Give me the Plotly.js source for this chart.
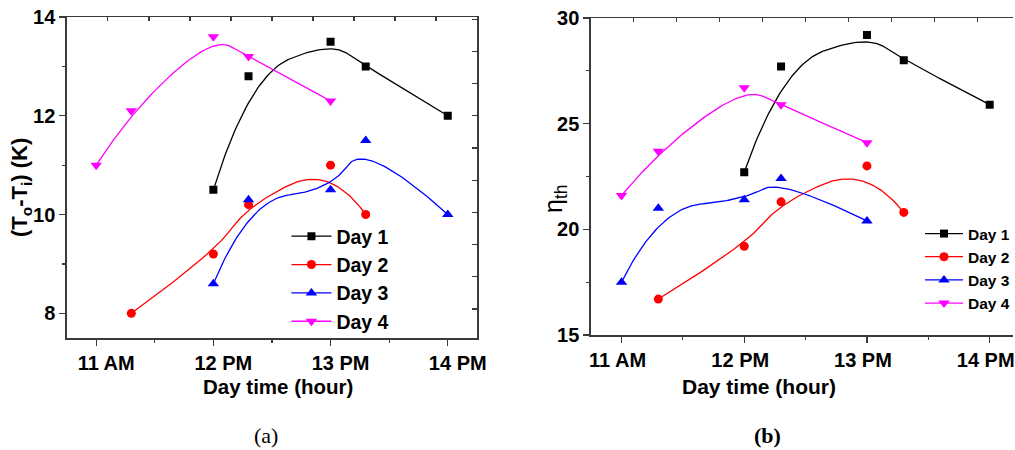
<!DOCTYPE html>
<html><head><meta charset="utf-8">
<script src="https://cdn.plot.ly/plotly-3.0.1.min.js"></script>
<style>html,body{margin:0;padding:0;background:#fff}</style>
</head><body><div id="chart" style="width:1015px;height:450px"></div>
<script>
// ---------- data ----------
const hourTicks = [11, 12, 13, 14];
const hourLabels = ['11 AM', '12 PM', '13 PM', '14 PM'];
const seriesNames = ['Day 1', 'Day 2', 'Day 3', 'Day 4'];

// (a) outlet-inlet temperature difference (K)
const a_day1_x = [12, 12.3, 13, 13.3, 14];
const a_day1_y = [10.5, 12.8, 13.5, 13.0, 12.0];
const a_day2_x = [11.3, 12, 12.3, 13, 13.3];
const a_day2_y = [8.0, 9.2, 10.2, 11.0, 10.0];
const a_day3_x = [12, 12.3, 13, 13.3, 14];
const a_day3_y = [8.6, 10.3, 10.5, 11.5, 10.0];
const a_day4_x = [11, 11.3, 12, 12.3, 13];
const a_day4_y = [11.0, 12.1, 13.6, 13.2, 12.3];

// (b) thermal efficiency
const b_day1_x = [12, 12.3, 13, 13.3, 14];
const b_day1_y = [22.7, 27.7, 29.2, 28.0, 25.9];
const b_day2_x = [11.3, 12, 12.3, 13, 13.3];
const b_day2_y = [16.7, 19.2, 21.3, 23.0, 20.8];
const b_day3_x = [11, 11.3, 12, 12.3, 13];
const b_day3_y = [17.5, 21.0, 21.4, 22.4, 20.4];
const b_day4_x = [11, 11.3, 12, 12.3, 13];
const b_day4_y = [21.6, 23.7, 26.7, 25.9, 24.1];

// ---------- styles ----------
const colors = ['#000000', '#ff0000', '#0000ff', '#ff00ff'];
const symbols = ['square', 'circle', 'triangle-up', 'triangle-down'];
const msizes = [8, 9, 10, 10];
const axCol = '#3a3a3a';
const FONT = 'Liberation Sans, Arial, sans-serif';

// clamped quadratic B-spline smoothing drawn from the data points (as in the original plot)
function bspline(xs, ys, steps) {
  const n = xs.length, ox = [], oy = [];
  for (let i = 0; i <= n - 3; i++) {
    const sx = i === 0 ? xs[0] : (xs[i] + xs[i + 1]) / 2;
    const sy = i === 0 ? ys[0] : (ys[i] + ys[i + 1]) / 2;
    const cx = xs[i + 1], cy = ys[i + 1];
    const ex = i === n - 3 ? xs[n - 1] : (xs[i + 1] + xs[i + 2]) / 2;
    const ey = i === n - 3 ? ys[n - 1] : (ys[i + 1] + ys[i + 2]) / 2;
    for (let k = (i === 0 ? 0 : 1); k <= steps; k++) {
      const s = k / steps, a = (1 - s) * (1 - s), b = 2 * s * (1 - s), c = s * s;
      ox.push(a * sx + b * cx + c * ex);
      oy.push(a * sy + b * cy + c * ey);
    }
  }
  return [ox, oy];
}

const panelA = [[a_day1_x, a_day1_y], [a_day2_x, a_day2_y], [a_day3_x, a_day3_y], [a_day4_x, a_day4_y]];
const panelB = [[b_day1_x, b_day1_y], [b_day2_x, b_day2_y], [b_day3_x, b_day3_y], [b_day4_x, b_day4_y]];

const traces = [];
function addPanel(panel, xa, ya, leg) {
  panel.forEach((s, i) => {
    const [fx, fy] = bspline(s[0], s[1], 40);
    traces.push({x: fx, y: fy, xaxis: xa, yaxis: ya, mode: 'lines', showlegend: false,
      line: {color: colors[i], width: 1.3}, hoverinfo: 'skip'});
    traces.push({x: s[0], y: s[1], xaxis: xa, yaxis: ya, mode: 'markers', showlegend: false,
      marker: {color: colors[i], symbol: symbols[i], size: msizes[i]}});
    traces.push({x: [null], y: [null], xaxis: xa, yaxis: ya, mode: 'lines+markers', name: seriesNames[i],
      legend: leg, line: {color: colors[i], width: 1.3},
      marker: {color: colors[i], symbol: symbols[i], size: msizes[i]}});
  });
}
addPanel(panelA, 'x', 'y', 'legend');
addPanel(panelB, 'x2', 'y2', 'legend2');
// empty traces so the frame (top / right) axes are drawn
traces.push({x: [null], y: [null], xaxis: 'x3', yaxis: 'y', showlegend: false});
traces.push({x: [null], y: [null], xaxis: 'x', yaxis: 'y3', showlegend: false});
traces.push({x: [null], y: [null], xaxis: 'x4', yaxis: 'y2', showlegend: false});

const W = 1015, H = 450;
const px = v => v / W, py = v => 1 - v / H;

function xBottom(dom, rng, fs, anchor, shift) {
  return {domain: dom, range: rng, anchor: anchor, tickmode: 'array', tickvals: hourTicks, ticktext: hourLabels,
    ticks: 'outside', ticklen: 6, tickwidth: 1.3, tickcolor: axCol, showline: true, linecolor: axCol, linewidth: 1.5,
    showgrid: false, zeroline: false, fixedrange: true, ticklabelshift: shift, ticklabeloverflow: 'allow',
    tickfont: {family: FONT, size: fs, color: '#000', weight: 'bold'},
    minor: {tickmode: 'linear', tick0: 11, dtick: 0.5, ticks: 'outside', ticklen: 3, tickwidth: 1.2, tickcolor: axCol, showgrid: false}};
}
function xTop(base, anchor, rng) {
  return {overlaying: base, side: 'top', anchor: anchor, range: rng, tickmode: 'linear', tick0: 11.1, dtick: 0.35,
    ticks: 'inside', ticklen: 4, tickwidth: 1.2, tickcolor: axCol, showticklabels: false, showline: true,
    linecolor: axCol, linewidth: 1.5, showgrid: false, zeroline: false, fixedrange: true};
}

const layout = {
  width: W, height: H, margin: {l: 0, r: 0, t: 0, b: 0},
  paper_bgcolor: '#fff', plot_bgcolor: '#fff', showlegend: true,
  xaxis: xBottom([px(67), px(478)], [10.75, 14.25], 20, 'y', 10),
  yaxis: {domain: [py(338), py(17)], range: [7.5, 14], anchor: 'x', tickmode: 'linear', tick0: 8, dtick: 2,
    ticks: 'outside', ticklen: 6, tickwidth: 1.3, tickcolor: axCol, showline: true, linecolor: axCol, linewidth: 1.5,
    showgrid: false, zeroline: false, fixedrange: true,
    tickfont: {family: FONT, size: 20, color: '#000', weight: 'bold'},
    minor: {dtick: 1, ticks: 'outside', ticklen: 3, tickwidth: 1.2, tickcolor: axCol, showgrid: false}},
  xaxis3: xTop('x', 'y', [10.75, 14.25]),
  yaxis3: {overlaying: 'y', side: 'right', anchor: 'x', range: [7.5, 14], tickmode: 'linear', tick0: 12, dtick: 0.652,
    ticks: 'inside', ticklen: 5, tickwidth: 1.2, tickcolor: axCol, showticklabels: false, showline: true,
    linecolor: axCol, linewidth: 1.5, showgrid: false, zeroline: false, fixedrange: true},
  xaxis2: xBottom([px(592), 1], [10.75, 14.19], 20, 'y2', -4),
  yaxis2: {domain: [py(335), py(18)], range: [15, 30], anchor: 'x2', tickmode: 'linear', tick0: 15, dtick: 5,
    ticks: 'outside', ticklen: 6, tickwidth: 1.3, tickcolor: axCol, showline: true, linecolor: axCol, linewidth: 1.5,
    showgrid: false, zeroline: false, fixedrange: true,
    tickfont: {family: FONT, size: 20, color: '#000', weight: 'bold'},
    minor: {dtick: 2.5, ticks: 'outside', ticklen: 3, tickwidth: 1.2, tickcolor: axCol, showgrid: false}},
  xaxis4: xTop('x2', 'y2', [10.75, 14.19]),
  legend: {x: px(287), y: py(217), xanchor: 'left', yanchor: 'top', bgcolor: 'rgba(0,0,0,0)', borderwidth: 0,
    itemwidth: 40, font: {family: FONT, size: 19.5, color: '#000', weight: 'bold'}, tracegroupgap: 0},
  legend2: {x: px(922), y: py(217), xanchor: 'left', yanchor: 'top', bgcolor: 'rgba(0,0,0,0)', borderwidth: 0,
    itemwidth: 38, font: {family: FONT, size: 15.5, color: '#000', weight: 'bold'}, tracegroupgap: 0},
  annotations: [
    {text: '(T<sub>o</sub>-T<sub>i</sub>) (K)', xref: 'paper', yref: 'paper', x: px(21), y: py(187), textangle: -90,
      xanchor: 'center', yanchor: 'middle',
      showarrow: false, font: {family: FONT, size: 22, color: '#000', weight: 'bold'}},
    {text: 'Day time (hour)', xref: 'paper', yref: 'paper', x: px(279), y: py(386), xanchor: 'center', yanchor: 'middle',
      showarrow: false, font: {family: FONT, size: 20.5, color: '#000', weight: 'bold'}},
    {text: 'η<sub>th</sub>', xref: 'paper', yref: 'paper', x: px(556), y: py(198), textangle: -90,
      xanchor: 'center', yanchor: 'middle',
      showarrow: false, font: {family: FONT, size: 25, color: '#000'}},
    {text: 'Day time (hour)', xref: 'paper', yref: 'paper', x: px(760), y: py(386), xanchor: 'center', yanchor: 'middle',
      showarrow: false, font: {family: FONT, size: 21, color: '#000', weight: 'bold'}},
    {text: '(a)', xref: 'paper', yref: 'paper', x: px(267), y: py(435), xanchor: 'center', yanchor: 'middle',
      showarrow: false, font: {family: 'Liberation Serif, Times New Roman, serif', size: 22, color: '#000'}},
    {text: '(b)', xref: 'paper', yref: 'paper', x: px(769), y: py(435), xanchor: 'center', yanchor: 'middle',
      showarrow: false, font: {family: 'Liberation Serif, Times New Roman, serif', size: 22, color: '#000', weight: 'bold'}}
  ]
};

Plotly.newPlot('chart', traces, layout, {displayModeBar: false, staticPlot: true});
</script>
</body></html>
